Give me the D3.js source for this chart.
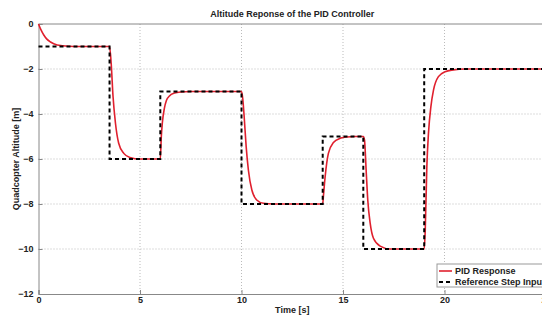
<!DOCTYPE html>
<html>
<head>
<meta charset="utf-8">
<script src="https://cdn.jsdelivr.net/npm/d3@7"></script>
<style>
  body { margin: 0; background: #fff; }
  svg { display: block; font-family: "Liberation Sans", Arial, sans-serif; font-weight: bold; }
</style>
</head>
<body>
<div id="chart"></div>
<script>
// Reference step input (time [s], altitude [m])
const stepTime = [0, 3.5, 3.5, 6, 6, 10, 10, 14, 14, 16, 16, 19, 19, 25];
const stepAlt = [-1, -1, -6, -6, -3, -3, -8, -8, -5, -5, -10, -10, -2, -2];

// PID response
const pidTime = [
  0, 0.1, 0.26, 0.4, 0.59, 0.92, 1.5, 2, 3.5,
  3.58, 3.67, 3.79, 3.95, 4.2, 4.5, 5, 6,
  6.05, 6.1, 6.2, 6.3, 6.45, 6.7, 7, 7.5, 10,
  10.06, 10.13, 10.23, 10.34, 10.51, 10.75, 11.08, 11.6, 14,
  14.04, 14.12, 14.28, 14.53, 14.86, 15.19, 15.6, 16,
  16.06, 16.14, 16.22, 16.34, 16.5, 16.83, 17.32, 19,
  19.05, 19.13, 19.21, 19.33, 19.46, 19.7, 20.03, 20.44, 21, 25
];
const pidAlt = [
  0, -0.22, -0.49, -0.66, -0.8, -0.93, -0.99, -1, -1,
  -1.75, -3.2, -4.4, -5.3, -5.75, -5.93, -6, -6,
  -5.0, -4.4, -3.75, -3.4, -3.2, -3.07, -3.02, -3, -3,
  -3.3, -4.1, -5.45, -6.5, -7.38, -7.82, -7.97, -8, -8,
  -7.6, -6.79, -5.75, -5.27, -5.08, -5.02, -5, -5,
  -5.16, -6.5, -7.82, -8.86, -9.52, -9.87, -10, -10,
  -9.2, -6.34, -4.86, -3.67, -2.93, -2.34, -2.12, -2.04, -2, -2
];

const xTicks = [0, 5, 10, 15, 20, 25];
const yTicks = [0, -2, -4, -6, -8, -10, -12];
const legendLabels = ["PID Response", "Reference Step Input"];

const width = 542, height = 316;
const margin = { top: 24, right: -4, bottom: 22, left: 38.5 };

const svg = d3.select("#chart").append("svg")
  .attr("width", width).attr("height", height);

const x = d3.scaleLinear().domain([0, 25])
  .range([margin.left, width - margin.right]);
const y = d3.scaleLinear().domain([-12, 0])
  .range([height - margin.bottom, margin.top]);

const textColor = "#222";

// grid
svg.append("g").selectAll("line").data(xTicks.slice(1, -1)).join("line")
  .attr("x1", d => x(d)).attr("x2", d => x(d))
  .attr("y1", y(0)).attr("y2", y(-12))
  .attr("stroke", "#bbb").attr("stroke-dasharray", "1,2");
svg.append("g").selectAll("line").data(yTicks.slice(1, -1)).join("line")
  .attr("x1", x(0)).attr("x2", x(25))
  .attr("y1", d => y(d)).attr("y2", d => y(d))
  .attr("stroke", "#bbb").attr("stroke-dasharray", "1,2");

// axes
const gx = svg.append("g")
  .attr("transform", `translate(0,${y(-12)})`)
  .call(d3.axisBottom(x).tickValues(xTicks).tickSize(-4).tickPadding(3));
const gy = svg.append("g")
  .attr("transform", `translate(${x(0)},0)`)
  .call(d3.axisLeft(y).tickValues(yTicks).tickSize(-4).tickPadding(5));
[gx, gy].forEach(g => {
  g.attr("font-family", null).attr("font-size", 9);
  g.select(".domain").attr("stroke", "#888");
  g.selectAll(".tick line").attr("stroke", "#888");
  g.selectAll(".tick text").attr("fill", textColor);
});
// top border
svg.append("line")
  .attr("x1", x(0)).attr("x2", x(25))
  .attr("y1", y(0)).attr("y2", y(0))
  .attr("stroke", "#888");

// lines
const line = d3.line().curve(d3.curveMonotoneX);
svg.append("path")
  .attr("d", line(pidTime.map((t, i) => [x(t), y(pidAlt[i])])))
  .attr("fill", "none").attr("stroke", "#e0202e").attr("stroke-width", 1.6);
svg.append("path")
  .attr("d", d3.line()(stepTime.map((t, i) => [x(t), y(stepAlt[i])])))
  .attr("fill", "none").attr("stroke", "#000").attr("stroke-width", 2)
  .attr("stroke-dasharray", "4,3");

// labels
svg.append("text")
  .attr("x", (x(0) + x(25)) / 2).attr("y", 17)
  .attr("text-anchor", "middle").attr("font-size", 9).attr("fill", textColor)
  .text("Altitude Reponse of the PID Controller");
svg.append("text")
  .attr("x", (x(0) + x(25)) / 2).attr("y", 313)
  .attr("text-anchor", "middle").attr("font-size", 9).attr("fill", textColor)
  .text("Time [s]");
svg.append("text")
  .attr("transform", `translate(19,${(y(0) + y(-12)) / 2}) rotate(-90)`)
  .attr("text-anchor", "middle").attr("font-size", 9).attr("fill", textColor)
  .text("Quadcopter Altitude [m]");

// legend
const lg = svg.append("g").attr("transform", "translate(437,264)");
lg.append("rect").attr("width", 118).attr("height", 23)
  .attr("fill", "#fff").attr("stroke", "#999");
lg.selectAll("text").data(legendLabels).join("text")
  .attr("x", 18).attr("y", (d, i) => 7 + i * 11).attr("dy", "0.35em")
  .attr("font-size", 9).attr("fill", textColor)
  .text(d => d);
lg.append("line").attr("x1", 2).attr("x2", 15).attr("y1", 7).attr("y2", 7)
  .attr("stroke", "#e0202e").attr("stroke-width", 1.6);
lg.append("line").attr("x1", 2).attr("x2", 15).attr("y1", 18).attr("y2", 18)
  .attr("stroke", "#000").attr("stroke-width", 2).attr("stroke-dasharray", "4,3");
</script>
</body>
</html>
